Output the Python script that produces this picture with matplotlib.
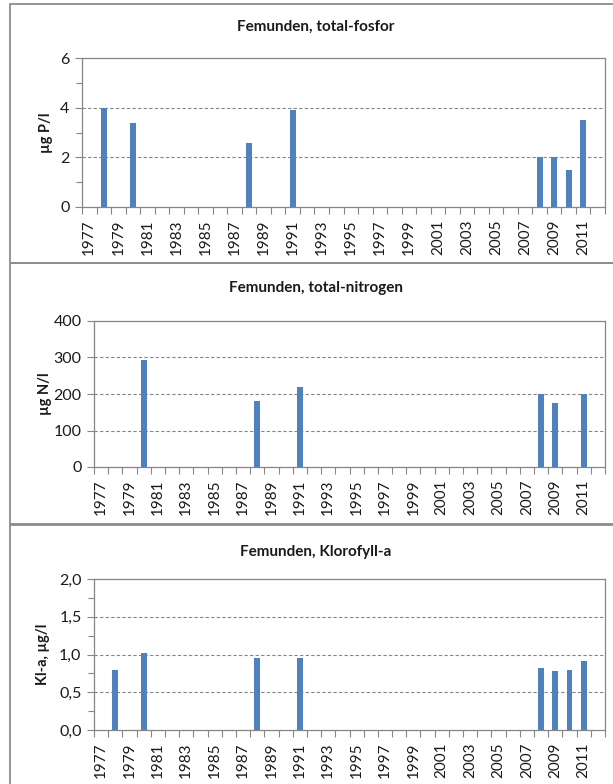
import matplotlib
matplotlib.use("Agg")
import matplotlib.pyplot as plt
from matplotlib.patches import Rectangle
from matplotlib.ticker import FixedLocator, NullFormatter

plt.rcParams['font.family'] = ['Lato', 'DejaVu Sans']

# ---- data ----
years = list(range(1977, 2013))
label_years = list(range(1977, 2012, 2))

tp_years = [1978, 1980, 1988, 1991, 2008, 2009, 2010, 2011]
tp_vals = [4.0, 3.4, 2.6, 3.9, 2.0, 2.0, 1.5, 3.5]

tn_years = [1980, 1988, 1991, 2008, 2009, 2011]
tn_vals = [292, 182, 218, 200, 175, 200]

chl_years = [1978, 1980, 1988, 1991, 2008, 2009, 2010, 2011]
chl_vals = [0.80, 1.02, 0.96, 0.96, 0.82, 0.78, 0.80, 0.91]

titles = ["Femunden, total-fosfor", "Femunden, total-nitrogen", "Femunden, Klorofyll-a"]
ylabels = ["µg P/l", "µg N/l", "Kl-a, µg/l"]

W, H = 613, 784
BAR = '#4F81BD'
GRAY = '#868686'
TXT = '#1a1a1a'

fig = plt.figure(figsize=(W / 100, H / 100), dpi=100)


def rect(left, right, top, bottom):
    return [left / W, 1 - bottom / H, (right - left) / W, (bottom - top) / H]


# panel boxes
for (top, bottom) in [(3.5, 262.5), (262.5, 523.5), (524.5, 800)]:
    fig.patches.append(Rectangle((10 / W, 1 - bottom / H), 620 / W, (bottom - top) / H,
                                 transform=fig.transFigure, fill=False,
                                 edgecolor='#8c8c8c', linewidth=1.3))

panels = [
    dict(box=(82, 605, 58.5, 207), yrs=tp_years, vals=tp_vals, ylim=(0, 6),
         major=[0, 2, 4, 6], minor=[1, 3, 5], fmt=lambda v: f"{v:g}", title_y=27, ylab_x=46),
    dict(box=(94, 605, 321, 467), yrs=tn_years, vals=tn_vals, ylim=(0, 400),
         major=[0, 100, 200, 300, 400], minor=[], fmt=lambda v: f"{v:g}", title_y=288, ylab_x=45),
    dict(box=(94, 605, 579, 730), yrs=chl_years, vals=chl_vals, ylim=(0, 2.0),
         major=[0, 0.5, 1.0, 1.5, 2.0], minor=[0.25, 0.75, 1.25, 1.75],
         fmt=lambda v: f"{v:.1f}".replace('.', ','), title_y=552, ylab_x=43),
]

for i, p in enumerate(panels):
    ax = fig.add_axes(rect(*p['box']))
    xs = [years.index(y) for y in p['yrs']]
    ax.bar(xs, p['vals'], width=0.4, color=BAR, zorder=3)
    ax.set_xlim(-0.5, len(years) - 0.5)
    ax.set_ylim(*p['ylim'])

    # y axis
    ax.set_yticks(p['major'])
    ax.set_yticklabels([p['fmt'](v) for v in p['major']])
    ax.yaxis.set_minor_locator(FixedLocator(p['minor']))
    ax.tick_params(axis='y', which='major', length=5, width=0.8, color=GRAY,
                   labelsize=11.5, labelcolor=TXT, pad=4)
    ax.tick_params(axis='y', which='minor', length=4, width=0.8, color=GRAY)
    for v in p['major'][1:-1]:
        ax.axhline(v, color=GRAY, linestyle=(0, (3, 2)), linewidth=0.8, zorder=1)

    # x axis: ticks at category boundaries, labels at centers
    ax.xaxis.set_minor_locator(FixedLocator([k - 0.5 for k in range(len(years) + 1)]))
    ax.xaxis.set_minor_formatter(NullFormatter())
    ax.set_xticks([years.index(y) for y in label_years])
    ax.set_xticklabels([str(y) for y in label_years], rotation=90)
    ax.tick_params(axis='x', which='major', length=0, labelsize=11, labelcolor=TXT, pad=9)
    ax.tick_params(axis='x', which='minor', length=5, width=0.8, color=GRAY)

    for s in ax.spines.values():
        s.set_color(GRAY)
        s.set_linewidth(0.9)

    fig.text(316 / W, 1 - p['title_y'] / H, titles[i], ha='center', va='center',
             fontsize=11, fontweight='bold', color=TXT)
    cy = (p['box'][2] + p['box'][3]) / 2
    fig.text(p['ylab_x'] / W, 1 - cy / H, ylabels[i], ha='center', va='center',
             rotation=90, fontsize=10.5, fontweight='bold', color=TXT)

fig.savefig('out.png', dpi=100)
